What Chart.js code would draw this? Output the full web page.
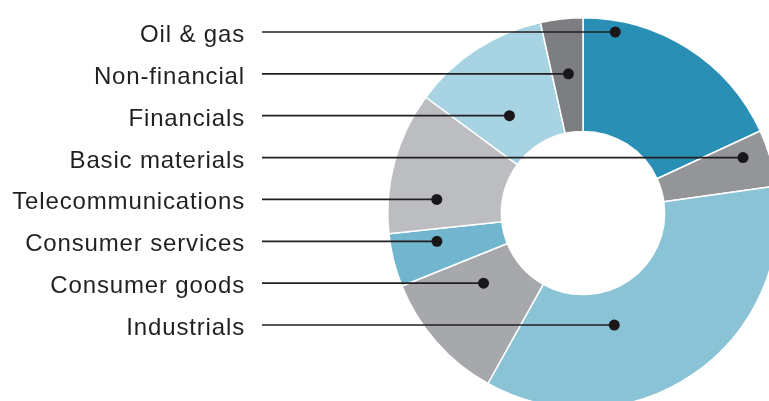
<!DOCTYPE html>
<html>
<head>
<meta charset="utf-8">
<script src="https://cdn.jsdelivr.net/npm/chart.js@4.4.1/dist/chart.umd.min.js"></script>
<style>
  html, body { margin: 0; padding: 0; background: #ffffff; overflow: hidden; }
  #wrap { position: relative; width: 769px; height: 401px; overflow: hidden; background: #ffffff; }
  #c { position: absolute; left: 0; top: 0; }
</style>
</head>
<body>
<div id="wrap"><canvas id="c" width="800" height="420"></canvas></div>
<script>
// Segments, clockwise from 12 o'clock
const sectors = ["Oil & gas", "Basic materials", "Industrials", "Consumer goods",
                 "Consumer services", "Telecommunications", "Financials", "Non-financial"];
const shares = [18.1, 4.7, 35.3, 10.8, 4.4, 11.8, 11.4, 3.5];
const sectorColors = ["#2a8fb5", "#939598", "#8bc3d6", "#a6a8ab",
                      "#72b5cf", "#bcbdc0", "#a8d3e2", "#7d7e81"];

// Label list order (top to bottom) and where each leader dot sits across its segment
const labelOrder = ["Oil & gas", "Non-financial", "Financials", "Basic materials",
                    "Telecommunications", "Consumer services", "Consumer goods", "Industrials"];
const dotFraction = [0.43, 0.53, 0.53, 0.59, 0.43, 0.41, 0.57, 0.42];

const rowTop = 32, rowStep = 41.86;
const textRight = 245, lineStart = 262;
const inkColor = "#231f20";

const leaderPlugin = {
  id: "leaders",
  afterDatasetsDraw(chart) {
    const ctx = chart.ctx;
    const meta = chart.getDatasetMeta(0);
    ctx.save();
    labelOrder.forEach((name, i) => {
      const idx = sectors.indexOf(name);
      const arc = meta.data[idx];
      const y = rowTop + i * rowStep;
      const cx = arc.x;
      const R = arc.outerRadius;
      let minX = null, maxX = null;
      for (let x = cx - R; x <= cx + R; x += 0.25) {
        if (arc.inRange(x, y)) {
          if (minX === null) minX = x;
          maxX = x;
        }
      }
      const dx = minX + dotFraction[i] * (maxX - minX);
      // leader line
      ctx.strokeStyle = inkColor;
      ctx.lineWidth = 1.7;
      ctx.beginPath();
      ctx.moveTo(lineStart, y);
      ctx.lineTo(dx, y);
      ctx.stroke();
      // dot
      ctx.fillStyle = "#1a171b";
      ctx.beginPath();
      ctx.arc(dx, y, 5.5, 0, Math.PI * 2);
      ctx.fill();
      // label
      ctx.fillStyle = inkColor;
      ctx.font = "24px 'Liberation Sans', Arial, sans-serif";
      try { ctx.letterSpacing = "0.85px"; } catch (e) {}
      ctx.textAlign = "right";
      ctx.textBaseline = "alphabetic";
      ctx.fillText(name, textRight, y + 10);
    });
    ctx.restore();
  }
};

new Chart(document.getElementById("c"), {
  type: "doughnut",
  data: {
    labels: sectors,
    datasets: [{
      data: shares,
      backgroundColor: sectorColors,
      borderColor: "#ffffff",
      borderWidth: 1.5,
      hoverOffset: 0
    }]
  },
  options: {
    responsive: false,
    animation: false,
    cutout: "41.8%",
    layout: { padding: { left: 387, top: 17, right: 21, bottom: 11 } },
    plugins: {
      legend: { display: false },
      tooltip: { enabled: false }
    }
  },
  plugins: [leaderPlugin]
});
</script>
</body>
</html>
